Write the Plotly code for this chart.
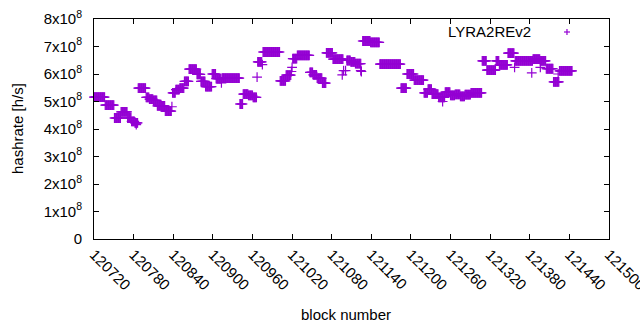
import plotly.graph_objects as go

# Runs of blocks sharing the same hashrate estimate (start block, end block, hashrate in MH/s)
seg_start = [120720, 120737, 120751, 120761, 120771, 120777, 120782, 120787, 120799, 120804,
             120810, 120816, 120828, 120839, 120844, 120850, 120857, 120864, 120876, 120882,
             120889, 120899, 120905, 120914, 120941, 120946, 120954, 120961, 120968, 120976,
             121002, 121011, 121021, 121028, 121047, 121052, 121058, 121066, 121072, 121082,
             121103, 121109, 121116, 121127, 121139, 121153, 121185, 121194, 121205, 121220,
             121226, 121232, 121242, 121252, 121260, 121267, 121275, 121282, 121291, 121308,
             121315, 121329, 121334, 121347, 121358, 121385, 121396, 121405, 121416, 121425]
seg_end = [120736, 120750, 120760, 120770, 120776, 120781, 120786, 120798, 120803, 120809,
           120815, 120827, 120837, 120843, 120849, 120856, 120863, 120875, 120881, 120888,
           120898, 120904, 120912, 120940, 120945, 120953, 120960, 120966, 120974, 121001,
           121010, 121018, 121027, 121046, 121051, 121057, 121065, 121071, 121081, 121097,
           121108, 121115, 121124, 121138, 121152, 121184, 121193, 121204, 121219, 121225,
           121231, 121241, 121251, 121259, 121266, 121274, 121281, 121290, 121307, 121314,
           121328, 121333, 121346, 121356, 121384, 121395, 121404, 121415, 121424, 121444]
seg_value = [516, 487, 440, 462, 440, 428, 422, 549, 515, 509,
             504, 484, 465, 531, 543, 549, 573, 618, 599, 573,
             554, 600, 583, 585, 491, 527, 522, 515, 644, 680,
             575, 596, 656, 668, 606, 597, 585, 567, 677, 654,
             649, 644, 638, 720, 715, 636, 549, 600, 578, 531,
             545, 527, 515, 534, 522, 526, 519, 525, 531, 648,
             614, 648, 633, 676, 648, 654, 648, 619, 571, 611]

# Isolated blocks off the runs
iso_block = [120784, 120838, 120913, 120967, 120975, 121019, 121020, 121096, 121098, 121101,
             121124, 121125, 121248, 121357, 121383, 121396, 121423]
iso_value = [416, 481, 568, 589, 634, 609, 624, 597, 612, 612,
             612, 609, 500, 624, 604, 624, 600]

x_tick_vals = [120720, 120780, 120840, 120900, 120960, 121020, 121080, 121140,
               121200, 121260, 121320, 121380, 121440, 121500]
y_tick_vals = [0, 1e8, 2e8, 3e8, 4e8, 5e8, 6e8, 7e8, 8e8]
y_tick_text = ["0"] + [f"{i}x10<sup>8</sup>" for i in range(1, 9)]

blocks, rates = [], []
for s, e, v in zip(seg_start, seg_end, seg_value):
    for b in range(s, e + 1):
        blocks.append(b)
        rates.append(v * 1e6)
for b, v in zip(iso_block, iso_value):
    blocks.append(b)
    rates.append(v * 1e6)

COLOR = "#9400D3"
FONT = "Liberation Sans, Arial, sans-serif"

fig = go.Figure()
fig.add_trace(go.Scatter(
    x=blocks, y=rates, mode="markers", name="LYRA2REv2",
    marker=dict(symbol="cross-thin", size=7, line=dict(width=1.2, color=COLOR), color=COLOR),
    cliponaxis=False, showlegend=False,
))

fig.update_layout(
    width=640, height=330,
    margin=dict(l=94, r=31, t=19, b=91),
    paper_bgcolor="white", plot_bgcolor="white",
    font=dict(family=FONT, size=15, color="black"),
    xaxis=dict(range=[120720, 121500], tickvals=x_tick_vals,
               ticktext=[str(v) for v in x_tick_vals], tickangle=45,
               showline=True, linecolor="black", linewidth=1, mirror="ticks",
               ticks="inside", ticklen=5, tickcolor="black", showgrid=False, zeroline=False,
               tickfont=dict(size=15), automargin=False, ticklabeloverflow="allow"),
    yaxis=dict(range=[0, 8e8], tickvals=y_tick_vals, ticktext=y_tick_text,
               showline=True, linecolor="black", linewidth=1, mirror="ticks",
               ticks="inside", ticklen=5, tickcolor="black", showgrid=False, zeroline=False,
               ticklabelstandoff=8, tickfont=dict(size=15), automargin=False),
    annotations=[
        dict(text="hashrate [h/s]", xref="paper", yref="paper", x=-0.1495, y=0.5,
             xanchor="center", yanchor="middle", textangle=-90, showarrow=False,
             font=dict(size=15)),
        dict(text="block number", xref="paper", yref="paper", x=0.49, y=-0.345,
             xanchor="center", yanchor="middle", showarrow=False, font=dict(size=15)),
        dict(text="LYRA2REv2", xref="paper", yref="paper", x=0.852, y=0.945,
             xanchor="right", yanchor="middle", showarrow=False, font=dict(size=15)),
    ],
    shapes=[
        dict(type="line", xref="paper", yref="paper", x0=0.9126, x1=0.9243, y0=0.9409, y1=0.9409,
             line=dict(color=COLOR, width=1.2)),
        dict(type="line", xref="paper", yref="paper", x0=0.9184, x1=0.9184, y0=0.9545, y1=0.9273,
             line=dict(color=COLOR, width=1.2)),
    ],
)

fig.write_html("out.html", config={"displayModeBar": False},
               post_script="document.body.style.margin='0';document.body.style.overflow='hidden';")
